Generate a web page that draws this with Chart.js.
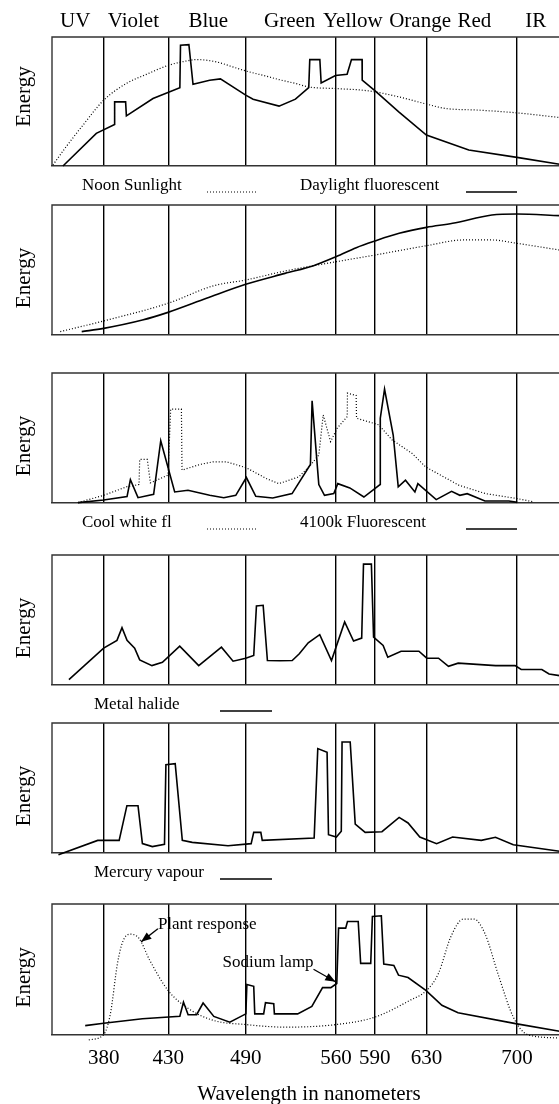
<!DOCTYPE html>
<html><head>
<meta charset="UTF-8">
<title>Spectral energy of light sources</title>
<script src="https://cdn.jsdelivr.net/npm/chart.js@4"></script>
<style>
    html, body { margin: 0; padding: 0; background: #fff; overflow: hidden; }
    body { width: 559px; height: 1104px; position: relative; }
    canvas { position: absolute; left: 0; }
</style>
</head>
<body>
<canvas id="p1"></canvas>
<canvas id="p2"></canvas>
<canvas id="p3"></canvas>
<canvas id="p4"></canvas>
<canvas id="p5"></canvas>
<canvas id="p6"></canvas>
<script>
const FONT = "'Liberation Serif', 'Times New Roman', serif";

// vertical lines / tick labels (nm)
const gridWl = [380, 430, 490, 560, 590, 630, 700];
// colour band names across the top and where they sit (nm)
const bandNames = ['UV', 'Violet', 'Blue', 'Green', 'Yellow', 'Orange', 'Red', 'IR'];
const bandWl = [358, 403, 461, 524, 573, 625, 667, 714.5];

// panel 1
const daylightWl = [348.5, 374.3, 388.5, 388.5, 397, 397.6, 418.2, 439, 439.5, 446, 449.2, 462.1, 470.4, 490, 495.7, 515.8, 528.5, 538.8, 539.6, 547.4, 548.4, 559.5, 568.5, 571.9, 580.1, 580.2, 590.2, 608.5, 629.9, 662.7, 700, 733];
const daylightE = [0, 25.3, 32.2, 49.7, 49.7, 38.9, 52.3, 60.6, 93.6, 94.1, 63.4, 66.5, 67.5, 54.9, 51.8, 46.4, 51.8, 60.8, 82.5, 82.5, 64.4, 70.1, 71.1, 82.5, 82.5, 66.5, 58.2, 42, 24, 12.4, 6.7, 1.3];
const noonWl = [340.7, 351, 364, 380, 397.6, 413, 430, 444, 451.8, 467.3, 480, 490, 506, 515.7, 528.5, 538.8, 560, 580, 590, 608.5, 630, 644.7, 670.5, 700, 733];
const noonE = [0.8, 15, 31.7, 51, 64, 71, 78, 81.4, 82.5, 80.7, 76.8, 73.7, 69.6, 67, 64, 61.3, 60, 58.8, 57.5, 53.6, 48, 44.6, 43.3, 41.2, 37.6];

// panel 2
const p2SolidWl = [363, 380, 410, 429.8, 459.6, 490, 520.4, 542.5, 560.2, 575.6, 590, 608.8, 630, 650.2, 680.6, 700, 733];
const p2SolidE = [2.6, 5.1, 11.5, 17.4, 28.2, 39, 47.4, 53.3, 60.3, 67.2, 72.3, 78.2, 82.8, 85.9, 92.3, 93.1, 91.8];
const p2DotWl = [346.4, 380, 429.8, 465.2, 490, 520.4, 560.2, 590, 630, 658.5, 680.6, 700, 733];
const p2DotE = [2.6, 10.8, 24.4, 37.9, 42.3, 49.2, 56.4, 61.5, 68.7, 73.1, 73.1, 70.5, 65.4];

// panel 3
const f4100Wl = [360.1, 380, 398.1, 400.7, 406.6, 418.7, 424.2, 435, 445.3, 462.1, 473, 482.3, 490.5, 497.8, 510.9, 525.9, 540.1, 541.4, 546.6, 551, 558.2, 561.3, 570.6, 581.5, 594, 594.2, 597.5, 604.2, 608.1, 613.7, 621, 623.3, 637.5, 649.4, 655.8, 661.5, 675.2, 693.8, 700.3];
const f4100E = [0.3, 2.3, 4.9, 18, 4.1, 6.7, 47.9, 8.5, 9.8, 5.9, 4.1, 5.9, 19.6, 5.2, 3.8, 7.2, 29.6, 78.6, 14.2, 5.9, 7.2, 14.9, 11.6, 4.6, 14.2, 65.2, 87.6, 52.3, 12.4, 17.5, 8.5, 14.9, 2.6, 9, 5.9, 7.2, 1.5, 1.5, 0.5];
const coolWl = [360, 380, 397.6, 407.4, 407.9, 413.8, 416.2, 429.8, 431.9, 440.2, 440.7, 454.4, 464.7, 475, 490.5, 506, 515.7, 531.1, 540.1, 546.6, 550, 555.7, 560.8, 568.6, 568.8, 575.5, 575.8, 593.1, 603.4, 618.9, 629.2, 655, 675.7, 700.3, 713.2];
const coolE = [0.3, 5.9, 12.4, 14.2, 33.5, 33.5, 15.5, 21.4, 72.2, 72.2, 25.3, 29.6, 31.7, 31.7, 27.1, 18.8, 14.9, 20.1, 29.1, 36.9, 67.8, 47.2, 57.5, 66.5, 84.5, 82.7, 65.2, 60.1, 48.5, 38.1, 27.8, 13.7, 7.2, 3.4, 0.8];

// panel 4
const halideWl = [353.1, 380, 390.3, 394.2, 398.1, 404, 407.9, 417.4, 425.5, 438.9, 453.6, 471.2, 480.2, 490, 496.2, 498.3, 503.5, 506.8, 516.4, 526, 531.5, 538.4, 547.3, 556.4, 566.6, 573.5, 579.8, 581.2, 587.3, 589, 596.4, 600, 610.3, 624.1, 630.2, 639.3, 647, 654.5, 683.5, 698.6, 703.3, 719.3, 724.9, 733];
const halideE = [4.1, 28.4, 34.3, 44.1, 34.3, 28.4, 19.3, 14.9, 17.5, 29.9, 14.9, 29.1, 18.3, 20.6, 22.7, 60.8, 61.3, 18.8, 18.6, 18.8, 24, 32.5, 38.7, 18.8, 48.5, 33.8, 36.1, 93, 93, 36.9, 30.4, 21.4, 26, 26, 20.6, 20.6, 14.4, 16.8, 14.9, 14.9, 11.9, 11.9, 8.5, 7.2];

// panel 5
const mercuryWl = [345, 375.4, 392, 398, 406.6, 410, 417.7, 427.1, 428.2, 435.4, 440.9, 448.6, 476.3, 494.2, 496.2, 501.7, 502.8, 543, 545.8, 553, 554.1, 560.2, 564, 564.6, 570.9, 574.8, 582.5, 595.5, 608.8, 615.7, 624.8, 637.8, 650.2, 672.4, 683.4, 697.2, 733];
const mercuryE = [-1.3, 9.7, 9.7, 36.4, 36.4, 7.2, 4.9, 6.7, 67.9, 68.7, 9.7, 8.2, 5.6, 7.2, 15.9, 15.9, 9.7, 11.5, 80.3, 77.4, 14.1, 12.3, 16.7, 85.4, 85.4, 22.3, 15.9, 16.4, 27.4, 23.1, 12.3, 7.2, 12.3, 9.7, 12.1, 6.4, 1.3];

// panel 6
const sodiumWl = [365.7, 380, 410, 439, 441.8, 445.4, 452, 457, 465.3, 477.7, 490.1, 490.9, 496.2, 497, 503.9, 505.3, 511.7, 512.2, 530.2, 541.2, 549.5, 555.9, 560.5, 561.9, 567.4, 568.8, 577.1, 579, 586.8, 588.1, 595, 596.9, 604.7, 608.3, 615.7, 629.5, 641.9, 654.4, 700, 733];
const sodiumE = [6.9, 8.7, 12.1, 14.1, 24.9, 15.2, 15.2, 24.2, 13.9, 9.5, 15.9, 38.3, 37, 15.9, 15.9, 24.4, 23.7, 15.9, 15.9, 21.6, 36, 36, 39.1, 81.5, 81.5, 86.6, 86.6, 54.5, 54.5, 90.5, 91, 54, 53, 45.5, 43.7, 33.9, 22.4, 16.7, 8.2, 2.6];
const plantWl = [368.5, 380, 385.2, 390.7, 394.8, 400.4, 407.3, 415.6, 429.8, 445.8, 465.2, 490.1, 520.5, 560.2, 590, 617.1, 630.1, 639.2, 648.9, 658.5, 666.8, 675.1, 686.1, 697.2, 708.2, 733];
const plantE = [-4.1, 0, 15.9, 54.5, 71.2, 76.9, 73.8, 57.1, 33.9, 19.8, 10.8, 7.7, 5.7, 7.7, 13.4, 26.2, 33.9, 46.8, 75.1, 88.4, 88.4, 77.6, 44.2, 13.4, 0, -2.6];

function pts(wl, e) { return wl.map((x, i) => ({ x: x, y: e[i] })); }

function solid(wl, e, smooth) {
    return { data: pts(wl, e), borderColor: '#000', borderWidth: 1.6, pointRadius: 0,
             clip: false, cubicInterpolationMode: smooth ? 'monotone' : 'default', tension: 0 };
}
function dotted(wl, e, smooth) {
    const d = solid(wl, e, smooth);
    d.borderWidth = 1.2;
    d.borderDash = [1, 2];
    return d;
}

// frame, "Energy", band names, legend rows and arrow notes
const decor = {
    id: 'decor',
    afterDraw(chart, args, o) {
        const ctx = chart.ctx, a = chart.chartArea;
        const xs = chart.scales.x, ys = chart.scales.y;
        ctx.save();
        ctx.strokeStyle = '#333';
        ctx.lineWidth = 1.4;
        ctx.setLineDash([]);
        ctx.beginPath();
        ctx.moveTo(a.left, a.bottom);
        ctx.lineTo(a.left, a.top);
        ctx.lineTo(a.right, a.top);
        ctx.stroke();

        ctx.fillStyle = '#000';
        ctx.save();
        ctx.font = '21px ' + FONT;
        ctx.translate(24, (a.top + a.bottom) / 2 + o.energyShift);
        ctx.rotate(-Math.PI / 2);
        ctx.textAlign = 'center';
        ctx.textBaseline = 'middle';
        ctx.fillText('Energy', 0, 0);
        ctx.restore();

        if (o.bands) {
            ctx.font = '21px ' + FONT;
            ctx.textAlign = 'center';
            ctx.textBaseline = 'middle';
            bandNames.forEach((n, i) => ctx.fillText(n, xs.getPixelForValue(bandWl[i]), a.top - 16));
        }

        (o.legend || []).forEach(it => {
            ctx.font = '17px ' + FONT;
            ctx.textAlign = 'left';
            ctx.textBaseline = 'alphabetic';
            ctx.fillText(it.text, it.tx, a.bottom + 24);
            ctx.strokeStyle = '#000';
            ctx.lineWidth = it.dotted ? 1.2 : 1.6;
            ctx.setLineDash(it.dotted ? [1, 2] : []);
            ctx.beginPath();
            ctx.moveTo(it.x1, a.bottom + 26);
            ctx.lineTo(it.x2, a.bottom + 26);
            ctx.stroke();
            ctx.setLineDash([]);
        });

        (o.notes || []).forEach(n => {
            ctx.font = '17px ' + FONT;
            ctx.textAlign = 'left';
            ctx.textBaseline = 'middle';
            ctx.fillText(n.text, xs.getPixelForValue(n.x), ys.getPixelForValue(n.y));
            const x1 = xs.getPixelForValue(n.tailX), y1 = ys.getPixelForValue(n.tailY);
            const x2 = xs.getPixelForValue(n.headX), y2 = ys.getPixelForValue(n.headY);
            const ang = Math.atan2(y2 - y1, x2 - x1);
            ctx.strokeStyle = '#000';
            ctx.lineWidth = 1.3;
            ctx.beginPath();
            ctx.moveTo(x1, y1);
            ctx.lineTo(x2, y2);
            ctx.stroke();
            ctx.beginPath();
            ctx.moveTo(x2, y2);
            ctx.lineTo(x2 - 11 * Math.cos(ang - 0.38), y2 - 11 * Math.sin(ang - 0.38));
            ctx.lineTo(x2 - 11 * Math.cos(ang + 0.38), y2 - 11 * Math.sin(ang + 0.38));
            ctx.closePath();
            ctx.fill();
        });
        ctx.restore();
    }
};

function makePanel(id, top, padTop, padBottom, height, datasets, deco, last) {
    const cv = document.getElementById(id);
    cv.width = 566;
    cv.height = height;
    cv.style.top = (top - padTop) + 'px';
    return new Chart(cv, {
        type: 'line',
        data: { datasets: datasets },
        plugins: [decor],
        options: {
            responsive: false,
            animation: false,
            events: [],
            layout: { padding: { left: 52, right: 0, top: padTop, bottom: padBottom } },
            plugins: { legend: { display: false }, tooltip: { enabled: false }, decor: deco },
            scales: {
                x: {
                    type: 'linear', min: 340, max: 738,
                    afterBuildTicks: s => { s.ticks = gridWl.map(v => ({ value: v })); },
                    grid: { color: '#000', lineWidth: 1.4, drawTicks: false },
                    border: { display: true, color: '#333', width: 1.4 },
                    ticks: { display: last, color: '#000', padding: 11, autoSkip: false, maxRotation: 0,
                             font: { family: FONT, size: 21 } },
                    title: { display: last, text: 'Wavelength in nanometers', color: '#000',
                             padding: { top: 0, bottom: 0 }, font: { family: FONT, size: 21 } }
                },
                y: { display: false, min: 0, max: 100 }
            }
        }
    });
}

makePanel('p1', 37, 37, 34, 200,
    [dotted(noonWl, noonE, true), solid(daylightWl, daylightE, false)],
    { energyShift: -5, bands: true, legend: [
        { text: 'Noon Sunlight', tx: 82, x1: 207, x2: 257, dotted: true },
        { text: 'Daylight fluorescent', tx: 300, x1: 466, x2: 517, dotted: false }] }, false);

makePanel('p2', 205, 15, 15, 160,
    [dotted(p2DotWl, p2DotE, true), solid(p2SolidWl, p2SolidE, true)],
    { energyShift: 8 }, false);

makePanel('p3', 373, 15, 34, 179,
    [dotted(coolWl, coolE, false), solid(f4100Wl, f4100E, false)],
    { energyShift: 8, legend: [
        { text: 'Cool white fl', tx: 82, x1: 207, x2: 257, dotted: true },
        { text: '4100k Fluorescent', tx: 300, x1: 466, x2: 517, dotted: false }] }, false);

makePanel('p4', 555, 15, 34, 179,
    [solid(halideWl, halideE, false)],
    { energyShift: 8, legend: [
        { text: 'Metal halide', tx: 94, x1: 220, x2: 272, dotted: false }] }, false);

makePanel('p5', 723, 15, 34, 179,
    [solid(mercuryWl, mercuryE, false)],
    { energyShift: 8, legend: [
        { text: 'Mercury vapour', tx: 94, x1: 220, x2: 272, dotted: false }] }, false);

makePanel('p6', 904, 20, 0, 223,
    [dotted(plantWl, plantE, true), solid(sodiumWl, sodiumE, false)],
    { energyShift: 8, notes: [
        { text: 'Plant response', x: 422, y: 84.6, tailX: 422, tailY: 81, headX: 409, headY: 71 },
        { text: 'Sodium lamp', x: 472, y: 55, tailX: 542.5, tailY: 50, headX: 559.5, headY: 40.5 }] }, true);
</script>
</body></html>
